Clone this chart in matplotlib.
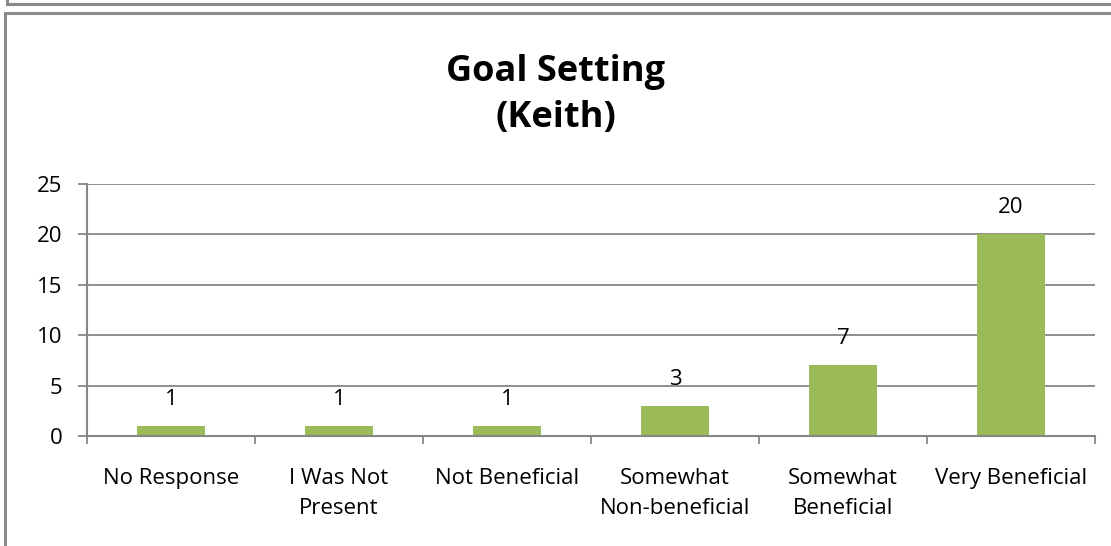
import matplotlib
matplotlib.use("Agg")
import matplotlib.pyplot as plt
from matplotlib.patches import Rectangle
from matplotlib.lines import Line2D

categories = ["No Response", "I Was Not\nPresent", "Not Beneficial",
              "Somewhat\nNon-beneficial", "Somewhat\nBeneficial", "Very Beneficial"]
counts = [1, 1, 1, 3, 7, 20]
yticks = [0, 5, 10, 15, 20, 25]

GREEN = "#9BBB59"
GRID = "#868686"
FONT = ["Open Sans", "DejaVu Sans"]

plt.rcParams["font.family"] = FONT

fig = plt.figure(figsize=(11.11, 5.46), dpi=100)
W, H = 1111, 546
# axes: x 87..1095, y 184..436 (pixels from top)
ax = fig.add_axes([87 / W, 1 - 436 / H, (1095 - 87) / W, (436 - 184) / H])

x = range(len(categories))
ax.bar(x, counts, width=0.4, color=GREEN, zorder=2)
for i, v in enumerate(counts):
    ax.text(i, v + 1.6, str(v), ha="center", va="bottom", fontsize=16, color="black")

ax.set_xlim(-0.5, len(categories) - 0.5)
ax.set_ylim(0, 25)
ax.set_yticks(yticks)
ax.set_yticklabels([str(t) for t in yticks], fontsize=16)
ax.yaxis.grid(True, color=GRID, linewidth=1.3, zorder=0)
ax.set_axisbelow(True)

# category ticks at boundaries, labels centred
ax.set_xticks([i - 0.5 for i in range(len(categories) + 1)])
ax.set_xticklabels([])
ax.set_xticks(list(x), minor=True)
ax.set_xticklabels(categories, minor=True, fontsize=16, linespacing=1.55)
ax.tick_params(axis="x", which="major", direction="out", length=6, width=1.3, color=GRID)
ax.tick_params(axis="x", which="minor", length=0, pad=23)
ax.tick_params(axis="y", direction="out", length=6.5, width=1.3, color=GRID, pad=11)

for s in ["top", "right"]:
    ax.spines[s].set_visible(False)
for s in ["left", "bottom"]:
    ax.spines[s].set_color(GRID)
    ax.spines[s].set_linewidth(1.5)

fig.text(556 / W, 1 - 95 / H, "Goal Setting\n(Keith)", ha="center", va="center",
         fontsize=26, fontweight="bold", linespacing=1.4)

# outer frames (chart border and the one above it)
fig.add_artist(Rectangle((5 / W, -0.05), 1.2, 1 - 12.5 / H + 0.05, transform=fig.transFigure,
                         fill=False, edgecolor="#8a8a8a", linewidth=2.2))
fig.add_artist(Line2D([7 / W, 1.0], [1 - 4 / H, 1 - 4 / H], transform=fig.transFigure,
                      color="#8a8a8a", linewidth=2.2))
fig.add_artist(Line2D([7 / W, 7 / W], [1 - 4 / H, 1.0], transform=fig.transFigure,
                      color="#8a8a8a", linewidth=2.2))

fig.savefig("out.png", dpi=100)
